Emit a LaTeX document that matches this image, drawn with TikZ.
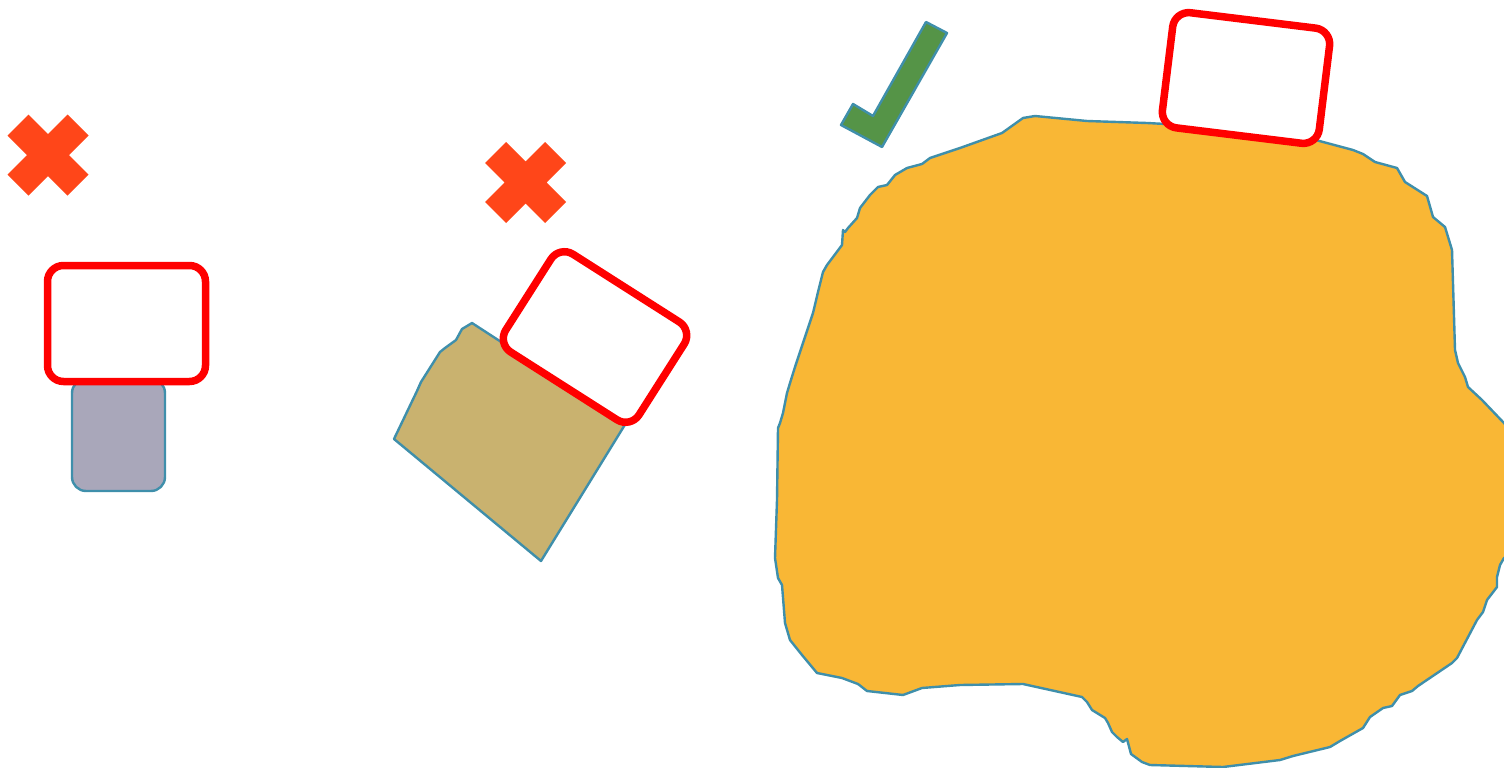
\documentclass[tikz,border=0pt]{standalone}
\usepackage{tikz}
\usepackage{xcolor}

\definecolor{crossred}{HTML}{FF4619}
\definecolor{blobfill}{HTML}{F9B735}
\definecolor{tickgreen}{HTML}{559447}
\definecolor{tanfill}{HTML}{C9B26F}
\definecolor{greyfill}{HTML}{A9A7BA}
\definecolor{edgeteal}{HTML}{3F8FAB}

\begin{document}
\begin{tikzpicture}[x=1pt,y=-1pt,
  frame/.style={draw=red,fill=white,line width=7.5pt,rounded corners=16pt,
    minimum width=158pt,minimum height=116pt,inner sep=0pt},
  outline/.style={draw=edgeteal,line width=2.4pt,line join=round}]
\clip (0,0) rectangle (1504,768);

% crosses
\foreach \cx/\cy in {48/155,525.5/182.5} {
  \begin{scope}[shift={(\cx,\cy)}]
    \fill[crossred] (-19.5,-40.5) -- (0,-21) -- (19.5,-40.5) -- (40.5,-19.5) -- (21,0)
      -- (40.5,19.5) -- (19.5,40.5) -- (0,21) -- (-19.5,40.5) -- (-40.5,19.5)
      -- (-21,0) -- (-40.5,-19.5) -- cycle;
  \end{scope}
}

% left pair
\node[outline,fill=greyfill,rounded corners=14pt,minimum width=93pt,minimum height=112pt,inner sep=0pt]
  (greybox) at (118.5,435) {};
\node[frame] (frameA) at (126.5,323.5) {};

% middle pair
\fill[tanfill,outline] (394,439) -- (541,561) -- (626,423) -- (472,323) -- (462,329)
  -- (456,340) -- (445,348) -- (440,352) -- (421,382) -- (417,391) -- cycle;
\node[frame,rotate=-32.5] (frameB) at (595,337) {};

% tick
\fill[tickgreen,outline] (926,22) -- (947,33) -- (882,147) -- (841,125) -- (853,104)
  -- (873,116) -- cycle;

% blob
\fill[blobfill,outline] (1035,116) -- (1087,121) -- (1147,123) -- (1240,128) -- (1297,135)
  -- (1353,150) -- (1363,154) -- (1375,162) -- (1397,168) -- (1405,182) -- (1427,196)
  -- (1433,217) -- (1445,227) -- (1452,250) -- (1455,350) -- (1458,363) -- (1465,377)
  -- (1468,387) -- (1482,400) -- (1503,422) -- (1520,440) -- (1520,550) -- (1504,558)
  -- (1500,565) -- (1497,577) -- (1497,587) -- (1487,600) -- (1483,612) -- (1477,620)
  -- (1457,658) -- (1452,663) -- (1418,686) -- (1412,691) -- (1400,695) -- (1392,706)
  -- (1383,708) -- (1370,717) -- (1363,728) -- (1340,741) -- (1330,747) -- (1293,756)
  -- (1280,760) -- (1223,767) -- (1150,765) -- (1142,762) -- (1131,754) -- (1127,739)
  -- (1123,742) -- (1117,737) -- (1112,732) -- (1108,723) -- (1105,718) -- (1092,710)
  -- (1087,702) -- (1082,697) -- (1023,684) -- (960,685) -- (922,688) -- (903,695)
  -- (867,691) -- (858,684) -- (842,678) -- (817,673) -- (802,655) -- (790,640)
  -- (785,623) -- (782,585) -- (778,578) -- (775,558) -- (777,500) -- (778,428)
  -- (780,423) -- (783,413) -- (787,393) -- (790,383) -- (795,367) -- (813,313)
  -- (818,292) -- (823,272) -- (827,265) -- (842,245) -- (843,230) -- (845,232)
  -- (848,228) -- (857,218) -- (860,208) -- (870,195) -- (878,187) -- (887,185)
  -- (895,175) -- (907,168) -- (922,164) -- (930,158) -- (960,148) -- (1002,133)
  -- (1023,118) -- cycle;
\node[frame,rotate=-7] (frameC) at (1246,78) {};
\end{tikzpicture}
\end{document}
